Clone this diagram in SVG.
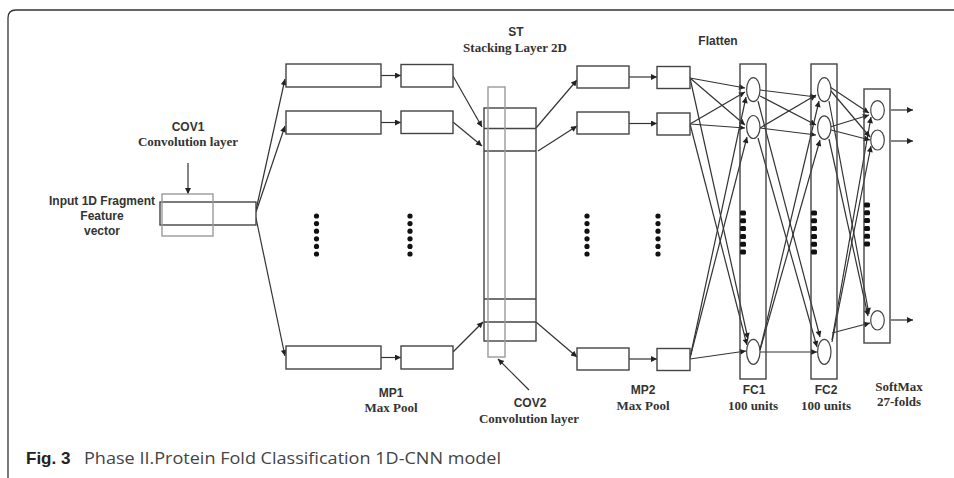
<svg xmlns="http://www.w3.org/2000/svg" width="954" height="478" viewBox="0 0 954 478">
<defs>
<marker id="ah" viewBox="0 0 10 10" refX="10" refY="5" markerWidth="8" markerHeight="6" markerUnits="userSpaceOnUse" orient="auto"><path d="M0,0 L10,5 L0,10 z" fill="#222"/></marker>
<style>
.ln{stroke:#333;stroke-width:1.2;fill:none;marker-end:url(#ah)}
.box{fill:#fff;stroke:#444;stroke-width:1.4}
.ob{fill:none;stroke:#444;stroke-width:1.4}
.gb{fill:none;stroke:#9a9a9a;stroke-width:1.4}
.neu{fill:#fff;stroke:#444;stroke-width:1.2}
.dot{fill:#111}
.sd{fill:#111}
.sans{font-family:"Liberation Sans",Arial,sans-serif;font-weight:bold;font-size:12px;fill:#333;text-anchor:middle}
.serif{font-family:"Liberation Serif","Times New Roman",serif;font-weight:bold;font-size:13px;fill:#333;text-anchor:middle}
</style>
</defs>
<rect width="954" height="478" fill="#fff"/>
<path d="M8,478 L8,18 Q8,10 16,10 L954,10" fill="none" stroke="#333" stroke-width="1.3"/>

<g id="connectors">
<path class="ln" d="M256,210 L285,79"/>
<path class="ln" d="M256,212 L285,126"/>
<path class="ln" d="M256,218 L285,356"/>
<path class="ln" d="M381,75.5 L401,75.5"/>
<path class="ln" d="M381,122.5 L401,122.5"/>
<path class="ln" d="M381,357.5 L401,357.5"/>
<path class="ln" d="M453,76 L482,127"/>
<path class="ln" d="M453,122 L482,146"/>
<path class="ln" d="M453,352 L483,322"/>
<path class="ln" d="M536,128 L577,80"/>
<path class="ln" d="M538,151 L577,126"/>
<path class="ln" d="M536,322 L577,357"/>
<path class="ln" d="M629,77 L657,77"/>
<path class="ln" d="M629,123.5 L657,123.5"/>
<path class="ln" d="M629,359 L657,359"/>
<!-- MP2 -> FC1 -->
<path class="ln" d="M690,78 L745,88"/>
<path class="ln" d="M690,124 L745,92"/>
<path class="ln" d="M690,358 L746,97"/>
<path class="ln" d="M690,78 L745,125"/>
<path class="ln" d="M690,124 L745,128"/>
<path class="ln" d="M690,358 L747,137"/>
<path class="ln" d="M690,78 L748,339"/>
<path class="ln" d="M690,124 L747,345"/>
<path class="ln" d="M690,359 L746,351"/>
<!-- FC1 -> FC2 -->
<path class="ln" d="M760,90 L816,97"/>
<path class="ln" d="M760,128 L816,95"/>
<path class="ln" d="M760,350 L819,101"/>
<path class="ln" d="M760,96 L816,125"/>
<path class="ln" d="M760,128 L816,135"/>
<path class="ln" d="M760,350 L820,140"/>
<path class="ln" d="M758,101 L820,337"/>
<path class="ln" d="M758,138 L817,347"/>
<path class="ln" d="M760,352 L817,352"/>
<!-- FC2 -> SoftMax -->
<path class="ln" d="M830,87 L869,113"/>
<path class="ln" d="M830,127 L869,115"/>
<path class="ln" d="M832,340 L871,117"/>
<path class="ln" d="M831,91 L870,137"/>
<path class="ln" d="M831,130 L870,140"/>
<path class="ln" d="M832,342 L871,146"/>
<path class="ln" d="M829,101 L869,314"/>
<path class="ln" d="M829,139 L868,316"/>
<path class="ln" d="M832,333 L870,323"/>
<!-- outputs -->
<path class="ln" d="M891,110 L913,110"/>
<path class="ln" d="M891,141 L913,141"/>
<path class="ln" d="M891,320 L913,320"/>
<!-- label pointers -->
<path class="ln" d="M188,163 L188,194"/>
<path class="ln" d="M529,390 L498,359"/>
</g>

<g id="input">
<rect class="box" x="160" y="202" width="96" height="23"/>
<text class="sans" x="102" y="205">Input 1D Fragment</text>
<text class="sans" x="102" y="220">Feature</text>
<text class="sans" x="102" y="235">vector</text>
</g>

<g id="cov1">
<rect class="gb" x="162" y="194" width="51" height="42"/>
<text class="sans" x="188" y="131">COV1</text>
<text class="serif" x="188" y="146">Convolution layer</text>
</g>

<g id="conv-maps-1">
<rect class="box" x="286" y="64" width="95" height="23"/>
<rect class="box" x="286" y="111" width="95" height="23"/>
<rect class="box" x="286" y="346" width="95" height="23"/>
<circle class="dot" cx="316.5" cy="216" r="2.6"/>
<circle class="dot" cx="316.5" cy="223.6" r="2.6"/>
<circle class="dot" cx="316.5" cy="231.2" r="2.6"/>
<circle class="dot" cx="316.5" cy="238.8" r="2.6"/>
<circle class="dot" cx="316.5" cy="246.4" r="2.6"/>
<circle class="dot" cx="316.5" cy="254" r="2.6"/>
</g>

<g id="mp1">
<rect class="box" x="401" y="64.5" width="52" height="22.5"/>
<rect class="box" x="401" y="111" width="52" height="22.5"/>
<rect class="box" x="401" y="346" width="52" height="23"/>
<circle class="dot" cx="410" cy="216" r="2.6"/>
<circle class="dot" cx="410" cy="223.6" r="2.6"/>
<circle class="dot" cx="410" cy="231.2" r="2.6"/>
<circle class="dot" cx="410" cy="238.8" r="2.6"/>
<circle class="dot" cx="410" cy="246.4" r="2.6"/>
<circle class="dot" cx="410" cy="254" r="2.6"/>
<text class="sans" x="391" y="397">MP1</text>
<text class="serif" x="391" y="412">Max Pool</text>
</g>

<g id="st">
<rect class="ob" x="484" y="108" width="52" height="233"/>
<line x1="484" y1="128.5" x2="536" y2="128.5" stroke="#444" stroke-width="1.4"/>
<line x1="484" y1="151" x2="536" y2="151" stroke="#444" stroke-width="1.4"/>
<line x1="484" y1="299" x2="536" y2="299" stroke="#444" stroke-width="1.4"/>
<line x1="484" y1="322" x2="536" y2="322" stroke="#444" stroke-width="1.4"/>
<text class="sans" x="516" y="36">ST</text>
<text class="serif" x="515" y="52">Stacking Layer 2D</text>
</g>

<g id="cov2">
<rect class="gb" x="488" y="87" width="17" height="270"/>
<text class="sans" x="530" y="407">COV2</text>
<text class="serif" x="529" y="423">Convolution layer</text>
</g>

<g id="conv-maps-2">
<rect class="box" x="577" y="66" width="52" height="22"/>
<rect class="box" x="577" y="112" width="52" height="22"/>
<rect class="box" x="577" y="348" width="52" height="22"/>
<circle class="dot" cx="587" cy="216" r="2.6"/>
<circle class="dot" cx="587" cy="223.6" r="2.6"/>
<circle class="dot" cx="587" cy="231.2" r="2.6"/>
<circle class="dot" cx="587" cy="238.8" r="2.6"/>
<circle class="dot" cx="587" cy="246.4" r="2.6"/>
<circle class="dot" cx="587" cy="254" r="2.6"/>
</g>

<g id="mp2">
<rect class="box" x="657" y="66.5" width="33" height="22"/>
<rect class="box" x="657" y="113" width="33" height="22"/>
<rect class="box" x="657" y="348.5" width="33" height="22"/>
<circle class="dot" cx="658" cy="216" r="2.6"/>
<circle class="dot" cx="658" cy="223.6" r="2.6"/>
<circle class="dot" cx="658" cy="231.2" r="2.6"/>
<circle class="dot" cx="658" cy="238.8" r="2.6"/>
<circle class="dot" cx="658" cy="246.4" r="2.6"/>
<circle class="dot" cx="658" cy="254" r="2.6"/>
<text class="sans" x="643" y="394">MP2</text>
<text class="serif" x="643" y="409.5">Max Pool</text>
</g>

<g id="flatten">
<text class="sans" x="718" y="45">Flatten</text>
</g>

<g id="fc1">
<rect class="ob" x="740" y="64" width="26" height="315"/>
<ellipse class="neu" cx="753.3" cy="89.7" rx="6.7" ry="12"/>
<ellipse class="neu" cx="753.3" cy="127" rx="6.7" ry="11.5"/>
<ellipse class="neu" cx="753.3" cy="351.8" rx="6.7" ry="12.5"/>
<rect class="sd" x="740" y="210.5" width="6" height="5" rx="1.5"/>
<rect class="sd" x="740" y="218.3" width="6" height="5" rx="1.5"/>
<rect class="sd" x="740" y="226.1" width="6" height="5" rx="1.5"/>
<rect class="sd" x="740" y="233.9" width="6" height="5" rx="1.5"/>
<rect class="sd" x="740" y="241.7" width="6" height="5" rx="1.5"/>
<rect class="sd" x="740" y="249.5" width="6" height="5" rx="1.5"/>
<text class="sans" x="754" y="394">FC1</text>
<text class="serif" x="753" y="409.5">100 units</text>
</g>

<g id="fc2">
<rect class="ob" x="811" y="64" width="26" height="315"/>
<ellipse class="neu" cx="824.3" cy="89.7" rx="6.7" ry="12"/>
<ellipse class="neu" cx="824.3" cy="127.6" rx="6.7" ry="11.7"/>
<ellipse class="neu" cx="824.3" cy="351.8" rx="6.7" ry="12.5"/>
<rect class="sd" x="811" y="210.5" width="6" height="5" rx="1.5"/>
<rect class="sd" x="811" y="218.3" width="6" height="5" rx="1.5"/>
<rect class="sd" x="811" y="226.1" width="6" height="5" rx="1.5"/>
<rect class="sd" x="811" y="233.9" width="6" height="5" rx="1.5"/>
<rect class="sd" x="811" y="241.7" width="6" height="5" rx="1.5"/>
<rect class="sd" x="811" y="249.5" width="6" height="5" rx="1.5"/>
<text class="sans" x="826" y="394">FC2</text>
<text class="serif" x="826" y="409.5">100 units</text>
</g>

<g id="softmax">
<rect class="ob" x="864" y="89" width="26" height="254"/>
<ellipse class="neu" cx="877.5" cy="110.3" rx="6.8" ry="9.7"/>
<ellipse class="neu" cx="877.5" cy="140" rx="6.8" ry="10"/>
<ellipse class="neu" cx="877.5" cy="320.3" rx="6.8" ry="9.7"/>
<rect class="sd" x="864" y="202.5" width="6" height="5" rx="1.5"/>
<rect class="sd" x="864" y="210.3" width="6" height="5" rx="1.5"/>
<rect class="sd" x="864" y="218.1" width="6" height="5" rx="1.5"/>
<rect class="sd" x="864" y="225.9" width="6" height="5" rx="1.5"/>
<rect class="sd" x="864" y="233.7" width="6" height="5" rx="1.5"/>
<rect class="sd" x="864" y="241.5" width="6" height="5" rx="1.5"/>
<text class="serif" x="899" y="391">SoftMax</text>
<text class="serif" x="899" y="406">27-folds</text>
</g>

<g id="caption">
<text x="26" y="464" font-family="'Liberation Sans',Arial,sans-serif" font-weight="bold" font-size="17" fill="#222">Fig. 3</text>
<text x="84" y="464" font-family="'Open Sans','Liberation Sans',sans-serif" font-size="17" fill="#444" textLength="417" lengthAdjust="spacingAndGlyphs">Phase II.Protein Fold Classification 1D-CNN model</text>
</g>
</svg>
